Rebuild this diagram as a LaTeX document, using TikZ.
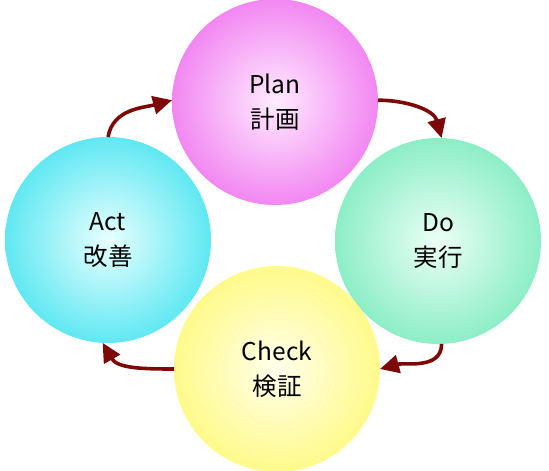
\documentclass[tikz,border=0pt]{standalone}
\usepackage{fontspec}
\setmainfont{Noto Sans CJK JP}
\usetikzlibrary{arrows.meta}

\definecolor{planout}{RGB}{242,135,242}
\definecolor{planin}{RGB}{255,236,255}
\definecolor{doout}{RGB}{140,238,198}
\definecolor{doin}{RGB}{236,255,246}
\definecolor{actout}{RGB}{96,232,242}
\definecolor{actin}{RGB}{232,255,255}
\definecolor{checkout}{RGB}{255,250,138}
\definecolor{checkin}{RGB}{255,255,236}
\definecolor{cyclered}{RGB}{125,8,8}

\begin{document}
\begin{tikzpicture}[x=1pt,y=1pt]
\tikzstyle{phase} = [circle,minimum size=206pt,inner sep=0pt,outer sep=0pt,align=center,
  font=\fontsize{24.5}{35}\selectfont]
\tikzstyle{cycle} = [draw=cyclered,line width=3.6pt,
  -{Triangle[length=19pt,width=18pt,fill=cyclered]}]
\useasboundingbox (0,0) rectangle (549,471);

\node[phase,inner color=planin,outer color=planout] (plan) at (275,369) {Plan\\計画};
\node[phase,inner color=doin,outer color=doout] (do) at (438,230) {Do\\実行};
\node[phase,inner color=checkin,outer color=checkout] (check) at (277,102) {Check\\検証};
\node[phase,inner color=actin,outer color=actout] (act) at (108,231) {Act\\改善};

\draw[cycle] (plan.1) to[out=0,in=105] (do.88);
\draw[cycle] (do.-88) to[out=-90,in=15] (check.0);
\draw[cycle] (check.180) to[out=180,in=-60] (act.-93);
\draw[cycle] (act.90) to[out=80,in=195] (plan.179);
\end{tikzpicture}
\end{document}
